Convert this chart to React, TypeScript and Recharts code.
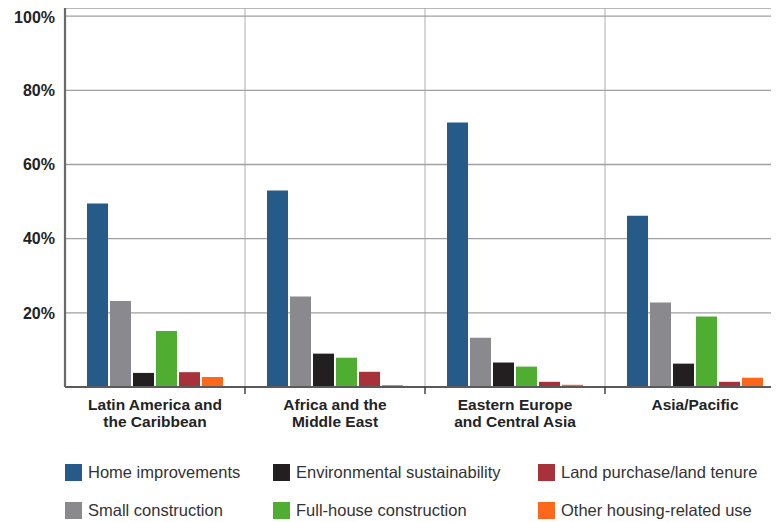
import React from 'react';
import { BarChart, Bar, XAxis, YAxis, CartesianGrid } from 'recharts';

const categories = ['Latin America and the Caribbean', 'Africa and the Middle East', 'Eastern Europe and Central Asia', 'Asia/Pacific'];
const categoryLines = [
  ['Latin America and', 'the Caribbean'],
  ['Africa and the', 'Middle East'],
  ['Eastern Europe', 'and Central Asia'],
  ['Asia/Pacific'],
];
const homeImprovements = [49.5, 53.0, 71.3, 46.2];
const smallConstruction = [23.2, 24.4, 13.3, 22.8];
const environmentalSustainability = [3.8, 9.0, 6.6, 6.3];
const fullHouseConstruction = [15.1, 7.9, 5.5, 19.0];
const landPurchase = [4.0, 4.1, 1.4, 1.4];
const otherHousingUse = [2.7, 0.5, 0.6, 2.5];
const yTicks = [0, 20, 40, 60, 80, 100];

const series = [
  { key: 'home', name: 'Home improvements', values: homeImprovements, color: '#265a88' },
  { key: 'small', name: 'Small construction', values: smallConstruction, color: '#8a8a8e' },
  { key: 'env', name: 'Environmental sustainability', values: environmentalSustainability, color: '#231f20' },
  { key: 'full', name: 'Full-house construction', values: fullHouseConstruction, color: '#4fae32' },
  { key: 'land', name: 'Land purchase/land tenure', values: landPurchase, color: '#a8323a' },
  { key: 'other', name: 'Other housing-related use', values: otherHousingUse, color: '#ff671b' },
];

const data = categories.map((c, i) => {
  const row: any = { name: c };
  series.forEach((s) => { row[s.key] = s.values[i]; });
  return row;
});

const FONT = '"Liberation Sans", Arial, Helvetica, sans-serif';

const CatTick = (props: any) => {
  const { x, y, index, payload } = props;
  const lines = categoryLines[index] || [];
  const half = payload && payload.offset ? payload.offset : 0;
  return (
    <g>
      <line x1={x + half} x2={x + half} y1={y} y2={y + 7} stroke="#3a3a3a" strokeWidth={1.4} />
      <text x={x} y={y} textAnchor="middle" fontFamily={FONT} fontWeight="bold" fontSize={15.5} fill="#232323">
        {lines.map((l, i) => (
          <tspan key={i} x={x} y={y + 23 + i * 17}>{l}</tspan>
        ))}
      </text>
    </g>
  );
};

const legendCols = [57, 265, 530];

const boundaryGenerator = ({ offset }: any) =>
  categories.map((_, i) => offset.left + (offset.width * (i + 1)) / categories.length);

export default function App() {
  return (
    <div style={{ width: 771, height: 514, overflow: 'hidden', position: 'relative' }}>
      <BarChart
        width={780}
        height={440}
        data={data}
        margin={{ top: 0, right: 3, bottom: 0, left: 0 }}
        barCategoryGap={22}
        barGap={2}
      >
        <CartesianGrid
          horizontal={false}
          verticalCoordinatesGenerator={boundaryGenerator}
          stroke="#c0c0c0"
          strokeWidth={1.3}
        />
        <CartesianGrid vertical={false} stroke="#a0a0a0" strokeWidth={1.3} />
        <XAxis
          dataKey="name"
          height={61}
          axisLine={{ stroke: '#5a5a5a', strokeWidth: 2 }}
          tickLine={false}
          tickSize={0}
          tickMargin={0}
          interval={0}
          tick={<CatTick />}
        />
        <YAxis
          width={57}
          domain={[0, 102.2]}
          ticks={yTicks}
          allowDataOverflow
          axisLine={{ stroke: '#6a6a6a', strokeWidth: 2.2 }}
          tickLine={false}
          tickSize={0}
          tickMargin={10}
          tickFormatter={(v: number) => (v === 0 ? '' : `${v}%`)}
          tick={{ fontFamily: FONT, fontWeight: 'bold', fontSize: 16, fill: '#232323' }}
        />
        {series.map((s) => (
          <Bar key={s.key} dataKey={s.key} name={s.name} fill={s.color} isAnimationActive={false} />
        ))}
      </BarChart>
      {series.map((s, i) => {
        const col = Math.floor(i / 2);
        const row = i % 2;
        return (
          <div
            key={s.key}
            style={{
              position: 'absolute',
              left: legendCols[col],
              top: 455 + row * 38,
              height: 18,
              display: 'flex',
              alignItems: 'center',
              whiteSpace: 'nowrap',
            }}
          >
            <div style={{ width: 17, height: 17, background: s.color, marginRight: 6 }} />
            <span style={{ fontFamily: FONT, fontSize: 16.5, color: '#333' }}>{s.name}</span>
          </div>
        );
      })}
    </div>
  );
}
